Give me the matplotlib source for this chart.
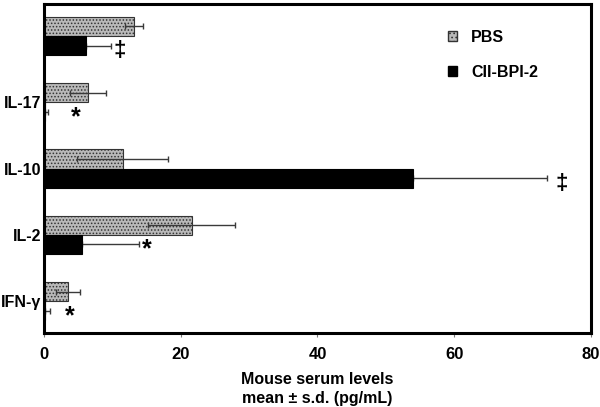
import matplotlib
matplotlib.use('Agg')
import matplotlib.pyplot as plt
import numpy as np
from matplotlib.patches import Patch

plt.rcParams['font.family'] = ['Liberation Sans', 'DejaVu Sans']
plt.rcParams['font.weight'] = 'bold'
plt.rcParams['hatch.linewidth'] = 0.7
plt.rcParams['hatch.color'] = '#5a5a5a'

# bottom to top
cytokines = ['IFN-γ', 'IL-2', 'IL-10', 'IL-17', '']
pbs = [3.5, 21.6, 11.5, 6.4, 13.2]
pbs_err = [1.8, 6.4, 6.6, 2.6, 1.3]
bpi = [0.15, 5.6, 54.0, 0.2, 6.2]
bpi_err = [0.7, 8.3, 19.6, 0.4, 3.6]
sig_marks = ['*', '*', '‡', '*', '‡']
sig_x = [3.7, 15.1, 75.7, 4.7, 11.0]

y = np.arange(len(cytokines))
h = 0.29

fig = plt.figure(figsize=(6.0, 4.07), dpi=100)
ax = fig.add_axes([0.0733, 0.1818, 0.9117, 0.8082])

ax.barh(y + h / 2, pbs, height=h, color='#b9b9b9', edgecolor='#333333',
        linewidth=0.8, hatch='.....', label='PBS', zorder=2)
ax.barh(y - h / 2, bpi, height=h, color='black', edgecolor='black',
        linewidth=0.8, label='CII-BPI-2', zorder=2)
ax.errorbar(pbs, y + h / 2, xerr=pbs_err, fmt='none', ecolor='#3a3a3a',
            elinewidth=1.0, capsize=2.5, capthick=1.0, zorder=3)
ax.errorbar(bpi, y - h / 2, xerr=[np.zeros(len(bpi)), bpi_err], fmt='none',
            ecolor='#3a3a3a', elinewidth=1.0, capsize=2.5, capthick=1.0, zorder=1)

for yi, m, xs in zip(y, sig_marks, sig_x):
    ax.text(xs, yi - h / 2 - 0.08, m, ha='center', va='center',
            fontsize=18 if m == '*' else 16, fontweight='bold')

ax.set_xlim(0, 80)
ax.set_ylim(-0.48, len(cytokines) - 0.52)
ax.set_xticks([0, 20, 40, 60, 80])
ax.set_yticks(y)
ax.set_yticklabels(cytokines, fontsize=11.5, fontweight='bold')
ax.tick_params(axis='y', length=0, pad=2)
ax.tick_params(axis='x', length=3, width=0.8, color='#777777', labelsize=12, pad=7)
for s in ax.spines.values():
    s.set_linewidth(2.2)

ax.set_xlabel('Mouse serum levels\nmean ± s.d. (pg/mL)', fontsize=11.5,
              fontweight='bold', labelpad=7, linespacing=1.4)

handles = [Patch(facecolor='#b9b9b9', edgecolor='#333333', hatch='....', label='PBS'),
           Patch(facecolor='black', edgecolor='black', label='CII-BPI-2')]
ax.legend(handles=handles, loc='upper right', bbox_to_anchor=(0.93, 0.965),
          frameon=False, handlelength=0.55, handleheight=0.55,
          handletextpad=0.9, labelspacing=1.25, prop={'weight': 'bold', 'size': 11.5})

fig.savefig('out.png', dpi=100)
